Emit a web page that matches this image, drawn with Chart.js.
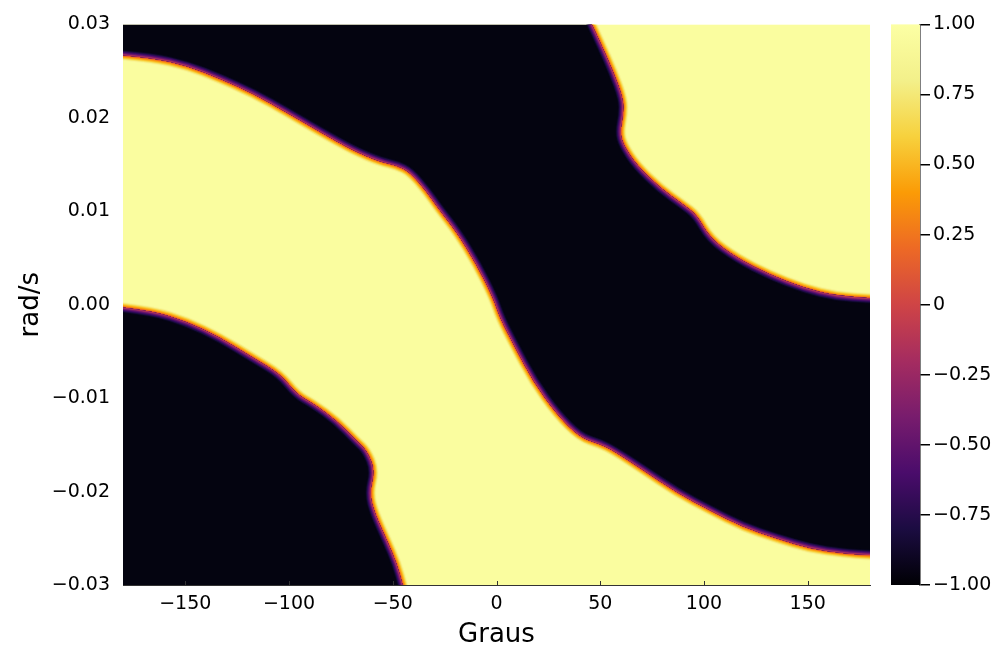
<!DOCTYPE html>
<html>
<head>
<meta charset="utf-8">
<script src="https://cdn.jsdelivr.net/npm/chart.js@4/dist/chart.umd.min.js"></script>
<style>
  html, body { margin: 0; padding: 0; background: #fff; }
  #wrap { width: 997px; height: 653px; }
</style>
</head>
<body>
<div id="wrap"><canvas id="heat" width="997" height="653"></canvas></div>
<script>
// axis ticks
const xTicks = [-150, -100, -50, 0, 50, 100, 150];
const xTickLabels = ['−150', '−100', '−50', '0', '50', '100', '150'];
const yTicks = [-0.03, -0.02, -0.01, 0, 0.01, 0.02, 0.03];
const yTickLabels = ['−0.03', '−0.02', '−0.01', '0.00', '0.01', '0.02', '0.03'];
const cbTicks = [-1, -0.75, -0.5, -0.25, 0, 0.25, 0.5, 0.75, 1];
const cbTickLabels = ['−1.00', '−0.75', '−0.50', '−0.25', '0', '0.25', '0.50', '0.75', '1.00'];

// boundaries (value = 0) between the -1 and +1 regions
// bottom-left black region
const lowerEdgeX = [-180, -165.4, -149.3, -133.3, -117.2, -104.3, -96.3, -88.3, -77.0, -67.4, -62.6, -58.6, -61.3, -58.6, -52.9, -48.1, -45.2];
const lowerEdgeY = [-0.0003, -0.0007, -0.0018, -0.0035, -0.0057, -0.0074, -0.0096, -0.0106, -0.0124, -0.0146, -0.0156, -0.0177, -0.0202, -0.0224, -0.0252, -0.0277, -0.030];
// diagonal band, lower/left edge
const middleEdgeX = [-180, -165.4, -149.3, -133.3, -117.2, -101.1, -85.1, -69.0, -56.1, -48.1, -41.7, -33.6, -28.0, -19.2, -9.5, -1.5, 1.7, 8.1, 17.7, 29.0, 40.2, 49.9, 56.3, 70.8, 86.8, 102.9, 118.9, 135.0, 151.1, 167.1, 180];
const middleEdgeY = [0.0267, 0.0264, 0.0256, 0.0242, 0.0226, 0.0206, 0.0185, 0.0165, 0.0153, 0.0149, 0.0142, 0.0121, 0.0103, 0.0078, 0.0043, 0.0007, -0.0014, -0.0042, -0.0082, -0.0117, -0.0142, -0.0149, -0.0156, -0.0177, -0.0201, -0.0220, -0.0238, -0.0250, -0.0261, -0.0266, -0.0268];
// diagonal band, upper/right edge
const upperEdgeX = [45.9, 49.9, 56.3, 61.1, 61.1, 59.5, 61.1, 67.6, 78.8, 90.0, 96.5, 102.9, 115.8, 131.8, 147.9, 163.9, 180];
const upperEdgeY = [0.030, 0.0281, 0.0249, 0.0220, 0.0203, 0.0185, 0.0171, 0.0149, 0.0125, 0.0107, 0.0096, 0.0071, 0.0050, 0.0032, 0.0018, 0.0009, 0.0007];

const X_MIN = -180, X_MAX = 180, Y_MIN = -0.03, Y_MAX = 0.03;

// inferno
const inferno = ['#000004', '#1b0c41', '#4a0c6b', '#781c6d', '#a52c60', '#cf4446', '#ed6925', '#fb9b06', '#f7d13d', '#f3f08a', '#fcffa4'];
const HIGH = '#fafd9f', LOW = '#040410';
// transition stripes, outer first
const warmSide = [[11, '#f8f597'], [9, '#f6e56a'], [7, '#f9c932'], [5, '#fba40f'], [3, '#f47a18'], [1.5, '#e0552f']];
const coldSide = [[11, '#07061c'], [9, '#1b0c41'], [7, '#3a0963'], [5, '#61136e'], [3, '#8a226a'], [1.5, '#b5355a']];

const FONT = 'DejaVu Sans';

function pairs(xs, ys) { return xs.map((v, i) => ({ x: v, y: ys[i] })); }

function trace(ctx, p, start) {
  if (start) ctx.moveTo(p[0].x, p[0].y); else ctx.lineTo(p[0].x, p[0].y);
  for (let i = 1; i < p.length - 1; i++) {
    ctx.quadraticCurveTo(p[i].x, p[i].y, (p[i].x + p[i + 1].x) / 2, (p[i].y + p[i + 1].y) / 2);
  }
  ctx.lineTo(p[p.length - 1].x, p[p.length - 1].y);
}

const heatmap = {
  id: 'heatmap',
  beforeDatasetsDraw(chart) {
    const { ctx, chartArea: a, scales } = chart;
    const sx = scales.x, sy = scales.y;
    const pts = i => chart.getDatasetMeta(i).data.map(e => ({ x: e.x, y: e.y }));
    const low = pts(0), mid = pts(1), up = pts(2);
    const X0 = sx.getPixelForValue(X_MIN), X1 = sx.getPixelForValue(X_MAX);
    const Y0 = sy.getPixelForValue(Y_MIN), Y1 = sy.getPixelForValue(Y_MAX);

    const blackShapes = () => {
      trace(ctx, low, true);
      ctx.lineTo(X0, Y0);
      ctx.closePath();
      trace(ctx, mid, true);
      trace(ctx, up.slice().reverse(), false);
      ctx.lineTo(X0, Y1);
      ctx.closePath();
    };
    const edges = () => {
      ctx.beginPath();
      trace(ctx, low, true);
      trace(ctx, mid, true);
      trace(ctx, up, true);
    };

    ctx.save();
    ctx.beginPath();
    ctx.rect(a.left, a.top, a.width, a.height);
    ctx.clip();
    ctx.fillStyle = HIGH;
    ctx.fillRect(a.left, a.top, a.width, a.height);
    ctx.beginPath();
    blackShapes();
    ctx.fillStyle = LOW;
    ctx.fill();

    ctx.lineJoin = 'round';
    ctx.lineCap = 'round';
    // warm side of each edge
    ctx.save();
    ctx.beginPath();
    ctx.rect(a.left, a.top, a.width, a.height);
    blackShapes();
    ctx.clip('evenodd');
    warmSide.forEach(([w, c]) => { edges(); ctx.lineWidth = w; ctx.strokeStyle = c; ctx.stroke(); });
    ctx.restore();
    // cold side
    ctx.save();
    ctx.beginPath();
    blackShapes();
    ctx.clip();
    coldSide.forEach(([w, c]) => { edges(); ctx.lineWidth = w; ctx.strokeStyle = c; ctx.stroke(); });
    ctx.restore();
    ctx.restore();

    // colorbar
    const cb = scales.cb, gap = scales.gap;
    const top = cb.getPixelForValue(1), bot = cb.getPixelForValue(-1);
    const g = ctx.createLinearGradient(0, bot, 0, top);
    inferno.forEach((c, i) => g.addColorStop(i / (inferno.length - 1), c));
    ctx.fillStyle = g;
    ctx.fillRect(gap.left + 21, top, gap.right - gap.left - 21, bot - top);
  },
  afterDraw(chart) {
    const { ctx, chartArea: a, scales } = chart;
    ctx.save();
    ctx.strokeStyle = '#333';
    ctx.lineWidth = 1;
    xTicks.forEach(v => {
      const px = Math.round(scales.x.getPixelForValue(v)) + 0.5;
      ctx.beginPath();
      ctx.moveTo(px, a.bottom);
      ctx.lineTo(px, a.bottom - 4);
      ctx.stroke();
    });
    ctx.restore();
  }
};

const ctx = document.getElementById('heat').getContext('2d');
const tickFont = { family: FONT, size: 19 };

new Chart(ctx, {
  type: 'scatter',
  data: {
    datasets: [
      { label: 'lower', data: pairs(lowerEdgeX, lowerEdgeY) },
      { label: 'middle', data: pairs(middleEdgeX, middleEdgeY) },
      { label: 'upper', data: pairs(upperEdgeX, upperEdgeY) }
    ].map(d => Object.assign(d, { showLine: false, pointRadius: 0, pointHoverRadius: 0 }))
  },
  options: {
    responsive: false,
    animation: false,
    events: [],
    layout: { padding: { top: 22, left: 0, right: 0, bottom: 0 } },
    plugins: { legend: { display: false }, tooltip: { enabled: false } },
    scales: {
      x: {
        type: 'linear', min: X_MIN, max: X_MAX,
        afterBuildTicks: s => { s.ticks = xTicks.map(v => ({ value: v })); },
        afterFit: s => { s.height = 68; },
        ticks: {
          callback: v => xTickLabels[xTicks.indexOf(v)],
          font: tickFont, color: '#000', padding: 8, maxRotation: 0, autoSkip: false
        },
        grid: { display: false, drawTicks: false },
        border: { display: true, color: '#333', width: 1 },
        title: { display: true, text: 'Graus', color: '#000', font: { family: FONT, size: 26 }, padding: { top: 0, bottom: 2 } }
      },
      y: {
        type: 'linear', position: 'left', min: Y_MIN, max: Y_MAX,
        afterBuildTicks: s => { s.ticks = yTicks.map(v => ({ value: v })); },
        afterFit: s => { s.width = 123; },
        ticks: {
          callback: v => yTickLabels[yTicks.indexOf(v)],
          font: tickFont, color: '#000', padding: 13, autoSkip: false
        },
        grid: { display: false, drawTicks: false },
        border: { display: false },
        title: { display: true, text: 'rad/s', color: '#000', font: { family: FONT, size: 26 }, padding: { top: 16, bottom: 0 } }
      },
      gap: {
        type: 'linear', position: 'right', weight: 0, display: true,
        afterFit: s => { s.width = 50; },
        ticks: { display: false },
        grid: { display: false, drawTicks: false },
        border: { display: false }
      },
      cb: {
        type: 'linear', position: 'right', weight: 1, min: -1, max: 1,
        afterBuildTicks: s => { s.ticks = cbTicks.map(v => ({ value: v })); },
        afterFit: s => { s.width = 77; },
        ticks: {
          callback: v => cbTickLabels[cbTicks.indexOf(v)],
          font: tickFont, color: '#000', padding: 3, autoSkip: false
        },
        grid: { drawOnChartArea: false, drawTicks: true, tickLength: 10, color: '#000', lineWidth: 1.5 },
        border: { display: true, color: '#000', width: 1.5 }
      }
    }
  },
  plugins: [heatmap]
});
</script>
</body>
</html>
